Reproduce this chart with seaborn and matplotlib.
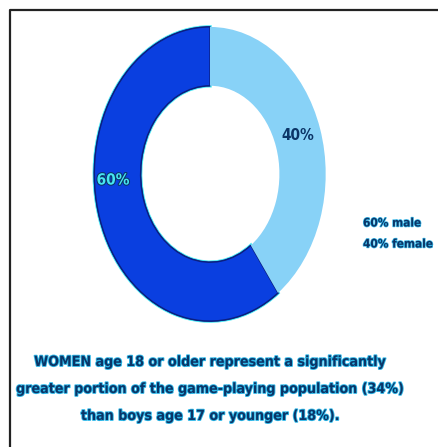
import matplotlib
matplotlib.use("Agg")
import matplotlib.pyplot as plt
import matplotlib.patheffects as pe
import seaborn as sns

# data
categories = ["male", "female"]
shares = [60, 40]
slice_labels = ["60%", "40%"]
legend_lines = ["60% male", "40% female"]
caption_lines = [
    "WOMEN age 18 or older represent a significantly",
    "greater portion of the game-playing population (34%)",
    "than boys age 17 or younger (18%).",
]

sns.set_theme(style="white")
plt.rcParams["font.family"] = ["DejaVu Sans"]
FS = dict(fontstretch="condensed", fontweight="bold", family="DejaVu Sans")

colors = ["#0a3fe0", "#88d2f7"]
navy = "#0b3567"
cyan = "#46e6f2"

W, H = 438, 447
fig = plt.figure(figsize=(W / 100, H / 100), dpi=100)
fig.patch.set_facecolor("white")

# donut (elliptical)
cx, cy, rx, ry = 210, 174, 118, 150
ax = fig.add_axes([(cx - rx) / W, (H - cy - ry) / H, 2 * rx / W, 2 * ry / H])
wedges, _ = ax.pie(shares, colors=colors, startangle=90, counterclock=True,
                   wedgeprops=dict(width=0.40, linewidth=0))
wedges[0].set_edgecolor("#0a1f80")
wedges[0].set_linewidth(1.0)
wedges[0].set_path_effects([pe.withStroke(linewidth=2.5, foreground=cyan), pe.Normal()])
ax.set_aspect("auto")
ax.set_xlim(-1.02, 1.02)
ax.set_ylim(-1.02, 1.02)
ax.axis("off")

# overlay for border and texts
bax = fig.add_axes([0, 0, 1, 1])
bax.set_zorder(5)
bax.patch.set_alpha(0)
bax.set_xlim(0, W)
bax.set_ylim(H, 0)
bax.axis("off")
bax.plot([10, 10, W], [H, 10, 10], color="#222222", lw=1.6, solid_capstyle="butt")

bax.text(113, 180, slice_labels[0], color=cyan, fontsize=11, ha="center", va="center",
         path_effects=[pe.withStroke(linewidth=1.5, foreground=navy)], **FS)
bax.text(298, 135, slice_labels[1], color=navy, fontsize=11, ha="center", va="center", **FS)

for i, line in enumerate(legend_lines):
    bax.text(363, 223 + i * 21, line, color=navy, fontsize=8.5, ha="left", va="center",
             path_effects=[pe.withStroke(linewidth=1.0, foreground="#3ab8e8")], **FS)

for i, line in enumerate(caption_lines):
    bax.text(210, 362 + i * 27, line, color=navy, fontsize=10.2, ha="center", va="center",
             path_effects=[pe.withStroke(linewidth=1.3, foreground="#2fb8e8")], **FS)

fig.savefig("out.png", dpi=100, facecolor="white")
